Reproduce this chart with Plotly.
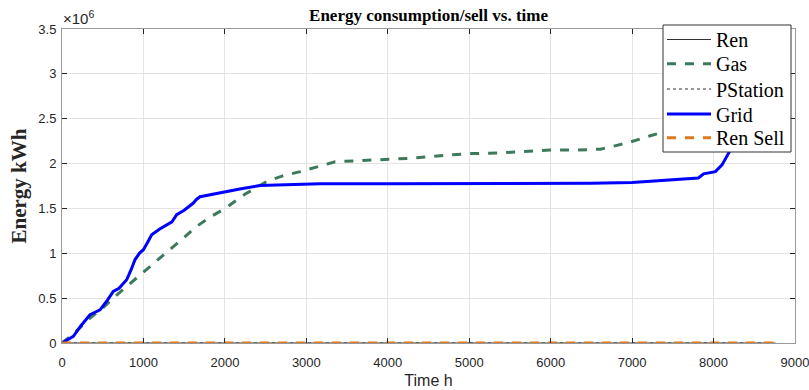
import plotly.graph_objects as go

# ---- data ----
t_flat = [0, 8760]
ren = [0, 0]
pstation = [0, 0]
ren_sell = [0, 0]

gas_t = [0, 140, 344, 500, 651, 820, 1000, 1160, 1327, 1490, 1654, 1830, 2002, 2250, 2514, 2700, 2924, 3149,
         3354, 3600, 3989, 4300, 4681, 4971, 5400, 5995, 6300, 6609, 6800, 6978, 7224, 7500, 8000, 8400, 8760]
gas = [0, 0.10e6, 0.278e6, 0.39e6, 0.519e6, 0.65e6, 0.78e6, 0.91e6, 1.04e6, 1.17e6, 1.30e6, 1.41e6, 1.50e6,
       1.66e6, 1.80e6, 1.86e6, 1.91e6, 1.967e6, 2.02e6, 2.03e6, 2.05e6, 2.06e6, 2.09e6, 2.11e6, 2.12e6, 2.15e6,
       2.15e6, 2.16e6, 2.20e6, 2.24e6, 2.31e6, 2.38e6, 2.48e6, 2.56e6, 2.65e6]

grid_t = [0, 139, 230, 344, 400, 467, 560, 630, 700, 794, 850, 897, 950, 999, 1050, 1101, 1200, 1286, 1350,
          1408, 1500, 1613, 1650, 1695, 1800, 1982, 2200, 2432, 2800, 3170, 4000, 5000, 5872, 6500, 7000,
          7510, 7813, 7878, 8022, 8104, 8206, 8400, 8760]
grid = [0, 0.074e6, 0.19e6, 0.315e6, 0.34e6, 0.37e6, 0.48e6, 0.575e6, 0.61e6, 0.705e6, 0.82e6, 0.93e6,
        1.0e6, 1.04e6, 1.12e6, 1.206e6, 1.27e6, 1.317e6, 1.35e6, 1.43e6, 1.48e6, 1.56e6, 1.60e6, 1.63e6,
        1.65e6, 1.68e6, 1.72e6, 1.755e6, 1.765e6, 1.775e6, 1.775e6, 1.775e6, 1.775e6, 1.78e6, 1.79e6,
        1.82e6, 1.84e6, 1.885e6, 1.91e6, 1.985e6, 2.15e6, 2.35e6, 2.6e6]

series_names = ["Ren", "Gas", "PStation", "Grid", "Ren Sell"]
y_ticks = [0, 0.5e6, 1e6, 1.5e6, 2e6, 2.5e6, 3e6, 3.5e6]
y_tick_labels = ["0", "0.5", "1", "1.5", "2", "2.5", "3", "3.5"]
x_ticks = [0, 1000, 2000, 3000, 4000, 5000, 6000, 7000, 8000, 9000]

SANS = "Liberation Sans"
SERIF = "Liberation Serif"

styles = [
    dict(color="#333333", width=1),
    dict(color="#3d7a5c", width=3, dash="dash"),
    dict(color="#333333", width=1, dash="dot"),
    dict(color="#0000ff", width=3),
    dict(color="#dc7a1c", width=3, dash="dash"),
]
xs = [t_flat, gas_t, t_flat, grid_t, t_flat]
ys = [ren, gas, pstation, grid, ren_sell]

fig = go.Figure()
for name, x, y, st in zip(series_names, xs, ys, styles):
    fig.add_trace(go.Scatter(x=x, y=y, name=name, mode="lines", line=st, showlegend=False))

axis_common = dict(showline=True, linecolor="#9a9a9a", linewidth=1, mirror="ticks",
                   ticks="inside", ticklen=5, tickcolor="#262626",
                   showgrid=True, gridcolor="#e3e3e3", gridwidth=1, zeroline=False,
                   automargin=False, ticklabeloverflow="allow",
                   tickfont=dict(family=SANS, size=13, color="#262626"))

fig.update_layout(
    width=809, height=390,
    margin=dict(l=62, r=14, t=29, b=47, autoexpand=False),
    paper_bgcolor="white", plot_bgcolor="white",
    title=dict(text="<b>Energy consumption/sell vs. time</b>", x=0.5297, xanchor="center",
               y=0.9615, yanchor="middle",
               font=dict(family=SERIF, size=17, color="black")),
    xaxis=dict(range=[0, 9000], tickvals=x_ticks, ticklabelstandoff=7,
               title=dict(text="Time h", standoff=6,
                          font=dict(family=SANS, size=16, color="#262626")),
               **axis_common),
    yaxis=dict(range=[0, 3.5e6], tickvals=y_ticks, ticktext=y_tick_labels, ticklabelstandoff=2,
               title=dict(text="<b>Energy kWh</b>", standoff=5,
                          font=dict(family=SERIF, size=21, color="#262626")),
               **axis_common),
    showlegend=False,
)
fig.add_annotation(text="×10<sup>6</sup>", xref="paper", yref="paper", x=-0.002, y=1.0,
                   xanchor="left", yanchor="bottom", showarrow=False,
                   font=dict(family=SANS, size=15, color="#262626"))

# ---- custom legend box (pixel layout converted to paper coords) ----
PX0, PW, PY0, PH = 62, 733, 343, 314
def px(xp):
    return (xp - PX0) / PW
def py(yp):
    return (PY0 - yp) / PH

fig.add_shape(type="rect", xref="paper", yref="paper",
              x0=px(663), x1=px(791), y0=py(152), y1=py(25),
              line=dict(color="#333333", width=1), fillcolor="white", layer="above")
row_y = [39.5, 63.8, 89, 114, 137.7]
for name, st, ry in zip(series_names, styles, row_y):
    fig.add_shape(type="line", xref="paper", yref="paper",
                  x0=px(667), x1=px(711), y0=py(ry), y1=py(ry), line=st, layer="above")
    fig.add_annotation(text=name, xref="paper", yref="paper", x=px(714), y=py(ry + 0.5),
                       xanchor="left", yanchor="middle", showarrow=False,
                       font=dict(family=SERIF, size=20, color="black"))

fig.write_html("out.html", config={"displayModeBar": False},
               post_script="document.body.style.margin='0';document.body.style.padding='0';")
